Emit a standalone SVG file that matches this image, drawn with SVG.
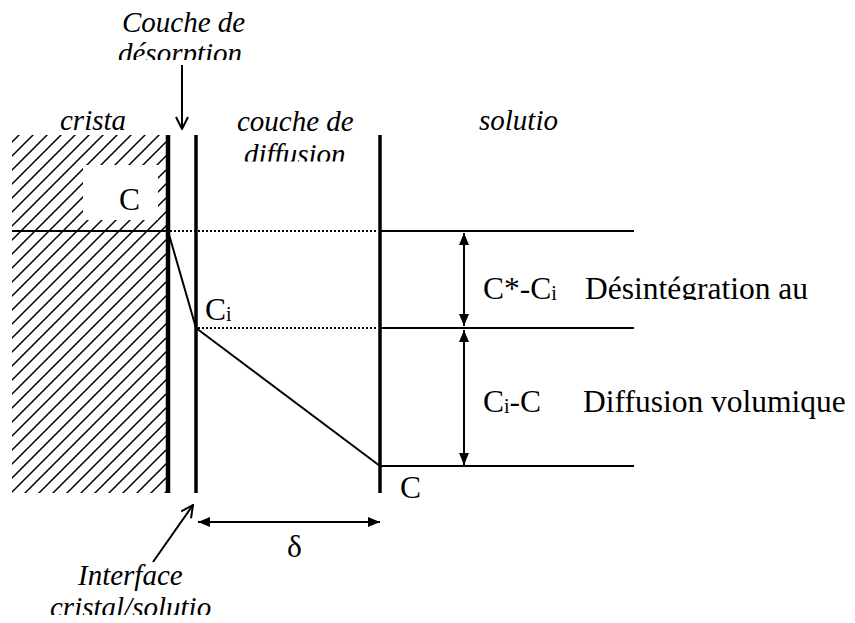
<svg xmlns="http://www.w3.org/2000/svg" width="855" height="623" viewBox="0 0 855 623">
<style>
.t{font-family:"Liberation Serif","Times New Roman",serif;fill:#000;font-size:31.5px}
.it{font-style:italic;font-size:29px}
.sub{font-size:20px}
.ln{stroke:#000;fill:none}
.dot{stroke:#000;stroke-width:2;stroke-dasharray:2 2;fill:none}
</style>
<defs>
<pattern id="hatch" patternUnits="userSpaceOnUse" width="14" height="14">
<path d="M-2,2 L2,-2 M0,14 L14,0 M12,16 L16,12" stroke="#000" stroke-width="1.5"/>
</pattern>
<marker id="fa" viewBox="0 0 12 10" refX="12" refY="5" markerWidth="12" markerHeight="10" markerUnits="userSpaceOnUse" orient="auto-start-reverse">
<path d="M0,0 L12,5 L0,10 Z" fill="#000"/>
</marker>
<marker id="va" viewBox="0 0 14 14" refX="13" refY="7" markerWidth="14" markerHeight="14" markerUnits="userSpaceOnUse" orient="auto">
<path d="M1,1 L13,7 L1,13" fill="none" stroke="#000" stroke-width="2"/>
</marker>
<clipPath id="c1"><rect x="0" y="0" width="400" height="60"/></clipPath>
<clipPath id="c2"><rect x="200" y="100" width="200" height="61.5"/></clipPath>
<clipPath id="c3"><rect x="470" y="250" width="385" height="50"/></clipPath>
<clipPath id="c4"><rect x="0" y="540" width="300" height="75"/></clipPath>
</defs>

<g id="crystal">
<rect x="12" y="135" width="155" height="358" fill="url(#hatch)"/>
<rect x="83" y="165" width="75" height="55" fill="#fff"/>
<text class="t" x="119" y="210">C</text>
<text class="t it" x="60" y="130">crista</text>
</g>

<g id="desorption-label">
<g clip-path="url(#c1)">
<text class="t it" x="122" y="32">Couche de</text>
<text class="t it" x="118" y="63">désorption</text>
</g>
</g>

<g id="diffusion-label" clip-path="url(#c2)">
<text class="t it" x="237" y="131">couche de</text>
<text class="t it" x="244" y="164">diffusion</text>
</g>

<g id="solution-label">
<text class="t it" x="479" y="130">solutio</text>
</g>

<g id="walls">
<line class="ln" x1="168" y1="135" x2="168" y2="493" stroke-width="4.5"/>
<line class="ln" x1="196" y1="135" x2="196" y2="493" stroke-width="3.5"/>
<line class="ln" x1="380" y1="135" x2="380" y2="493" stroke-width="3.5"/>
</g>

<g id="levels">
<line class="ln" x1="12" y1="231" x2="168" y2="231" stroke-width="2"/>
<line class="dot" x1="170" y1="231" x2="378" y2="231"/>
<line class="ln" x1="380" y1="231" x2="634" y2="231" stroke-width="2"/>
<line class="dot" x1="198" y1="328" x2="378" y2="328"/>
<line class="ln" x1="380" y1="328" x2="634" y2="328" stroke-width="2"/>
<line class="ln" x1="380" y1="466" x2="634" y2="466" stroke-width="2"/>
</g>

<g id="profile">
<polyline class="ln" points="168,231 196,328 380,466" stroke-width="2"/>
<text class="t" x="205" y="320">C<tspan class="sub" dy="1">i</tspan></text>
<text class="t" x="400" y="498">C</text>
</g>

<g id="connectors">
<line class="ln" x1="182" y1="65" x2="182" y2="129" stroke-width="2" marker-end="url(#va)"/>
<line class="ln" x1="464" y1="233" x2="464" y2="326" stroke-width="2" marker-start="url(#fa)" marker-end="url(#fa)"/>
<line class="ln" x1="464" y1="330" x2="464" y2="465" stroke-width="2" marker-start="url(#fa)" marker-end="url(#fa)"/>
<line class="ln" x1="198" y1="522" x2="380" y2="522" stroke-width="2" marker-start="url(#fa)" marker-end="url(#fa)"/>
<line class="ln" x1="153" y1="562" x2="193" y2="505" stroke-width="2" marker-end="url(#va)"/>
</g>

<g id="rate-labels">
<g clip-path="url(#c3)">
<text class="t" x="483" y="299">C*-C<tspan class="sub" dy="1">i</tspan></text>
<text class="t" x="585" y="299">Désintégration au</text>
</g>
<text class="t" x="483" y="412">C<tspan class="sub" dy="1">i</tspan><tspan dy="-1">-C</tspan></text>
<text class="t" x="583" y="412">Diffusion volumique</text>
</g>

<g id="delta-label">
<text class="t" x="287" y="557">δ</text>
</g>

<g id="interface-label" clip-path="url(#c4)">
<text class="t it" x="78" y="585">Interface</text>
<text class="t it" x="50" y="617">cristal/solutio</text>
</g>
</svg>
